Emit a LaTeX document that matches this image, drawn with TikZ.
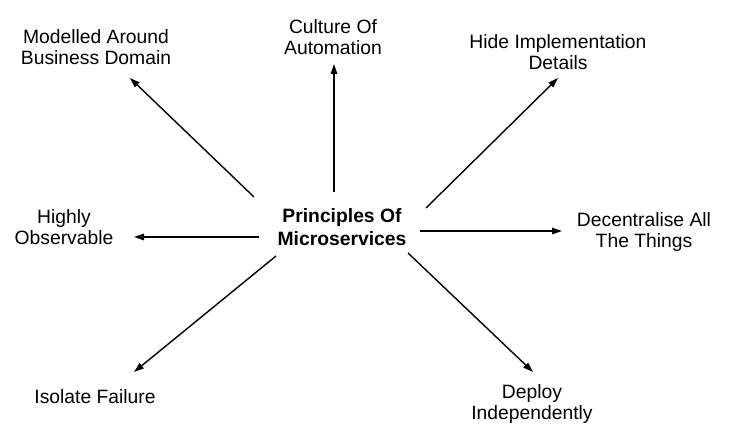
\documentclass[tikz,border=0pt]{standalone}
\usepackage{fontspec}
\setmainfont{Liberation Sans}
\usetikzlibrary{arrows.meta}

\begin{document}
\begin{tikzpicture}[x=1pt, y=-1pt, line width=1.4pt,
    idea/.style={align=center, inner sep=0pt, font=\fontsize{19.3}{21.5}\selectfont},
    arr/.style={-{Triangle[length=10pt,width=6.5pt]}}]
    \useasboundingbox (0,0) rectangle (732,441);
    % Nodes
    \node[idea, font=\fontsize{19.3}{22.5}\selectfont\bfseries] (centre) at (342,227) {Principles Of\\Microservices};
    \node[idea] (model) at (96,47) {Modelled Around\\Business Domain};
    \node[idea] (auto) at (333,37) {Culture Of\\Automation};
    \node[idea] (hide) at (558,52) {Hide Implementation\\Details};
    \node[idea] (observe) at (64,227) {Highly\\Observable};
    \node[idea] (decent) at (644,232) {Decentralise All\\The Things};
    \node[idea] (isolate) at (95,397) {Isolate Failure};
    \node[idea] (deploy) at (532,404) {Deploy\\Independently};
    % Arrows
    \draw[arr] ([shift={(-88,-30)}]centre.center) -- ([shift={(34,31)}]model.center);
    \draw[arr] ([shift={(-8,-35)}]centre.center) -- ([shift={(1,27)}]auto.center);
    \draw[arr] ([shift={(84,-19)}]centre.center) -- ([shift={(0,26)}]hide.center);
    \draw[arr] ([shift={(-83,10)}]centre.center) -- ([shift={(70,10)}]observe.center);
    \draw[arr] ([shift={(78,4)}]centre.center) -- ([shift={(-82,-1)}]decent.center);
    \draw[arr] ([shift={(-66,29)}]centre.center) -- ([shift={(39,-25)}]isolate.center);
    \draw[arr] ([shift={(66,26)}]centre.center) -- ([shift={(1,-32)}]deploy.center);
\end{tikzpicture}
\end{document}
